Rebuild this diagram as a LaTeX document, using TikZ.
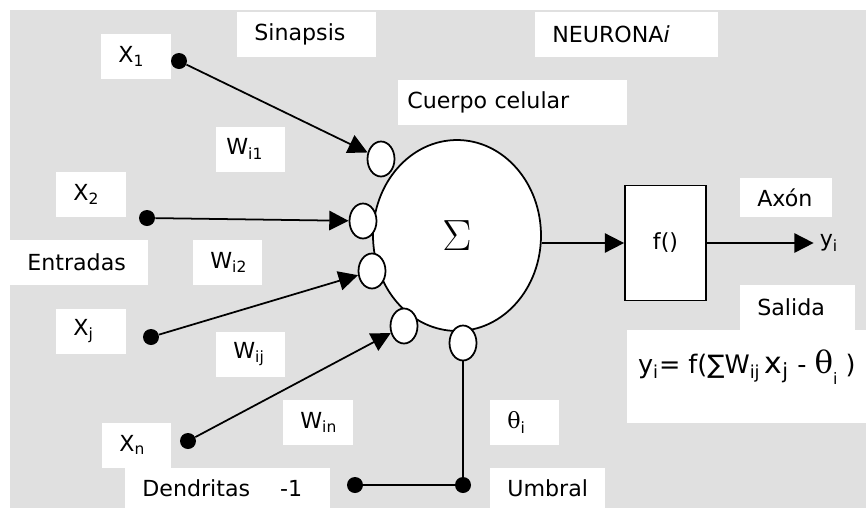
\documentclass[tikz,border=0pt]{standalone}
\usepackage[no-math]{fontspec}
\setmainfont{DejaVu Sans}
\newfontfamily\grk{DejaVu Serif}
\usetikzlibrary{arrows.meta,shapes.geometric}
\definecolor{Paper}{HTML}{E0E0E0}

\begin{document}
\begin{tikzpicture}[
  x=0.02cm,y=-0.02cm,
  font=\fontsize{12.6}{15}\selectfont,
  lbl/.style={fill=white,anchor=west,align=left,inner xsep=0.34cm,inner ysep=0pt,minimum height=0.9cm},
  syn/.style={ellipse,draw,fill=white,line width=1pt,minimum width=0.54cm,minimum height=0.7cm,inner sep=0pt},
  indot/.style={circle,fill=black,minimum size=0.32cm,inner sep=0pt},
  arrow/.style={-{Triangle[length=11pt,width=11pt]},line width=1pt},
  wire/.style={line width=1pt}
]
\useasboundingbox (0,0) rectangle (866,508);
\fill[Paper] (10,10) rectangle (866,508);

\node[lbl,text width=0.72cm] (lx1) at (101,56.5) {X\textsubscript{1}};
\node[lbl,text width=2.10cm] (lsyn) at (237,34.5) {Sinapsis};
\node[lbl,text width=2.98cm] (lneu) at (535,34.5) {NEURONA\textit{i}};
\node[lbl,inner xsep=0.18cm,text width=4.22cm] (lbody) at (398,102) {Cuerpo celular};
\node[lbl,inner xsep=0.2cm,text width=0.98cm] (lw1) at (216,149) {W\textsubscript{i1}};
\node[lbl,text width=0.72cm] (lx2) at (56,194.5) {X\textsubscript{2}};
\node[lbl,text width=2.08cm] (lin) at (10,262.5) {Entradas};
\node[lbl,text width=0.70cm] (lw2) at (193,262.5) {W\textsubscript{i2}};
\node[lbl,text width=0.72cm] (lxj) at (56,331) {X\textsubscript{j}};
\node[lbl,text width=0.70cm] (lwj) at (216,354) {W\textsubscript{ij}};
\node[lbl,text width=0.72cm] (lwn) at (283,422.5) {W\textsubscript{in}};
\node[lbl,text width=0.70cm] (lxn) at (102,445) {X\textsubscript{n}};
\node[lbl,text width=3.42cm,minimum height=0.8cm] (lden) at (125,488) {Dendritas\hspace{0.6cm}-1};
\node[lbl,text width=0.70cm] (lthe) at (490,422.5) {{\grk θ}\textsubscript{i}};
\node[lbl,text width=1.62cm,minimum height=0.8cm] (lumb) at (490,488) {Umbral};
\node[lbl,text width=1.16cm,minimum height=0.78cm] (laxon) at (740,197.5) {Axón};
\node[lbl,text width=1.62cm] (lsal) at (740,307.5) {Salida};
\node[fill=white,anchor=north west,inner sep=0pt,minimum width=4.78cm,text height=0.86cm,text depth=1.0cm,font=\fontsize{14.5}{16}\selectfont] (leq) at (627,330)
  {y\textsubscript{i}= f(∑W\textsubscript{ij}\,{\fontsize{17}{16}\selectfont x\textsubscript{j}} - {\grk\fontsize{17.5}{16}\selectfont θ}\raisebox{-0.8ex}{\small i} )};

\node[ellipse,draw,fill=white,line width=1pt,minimum width=3.36cm,minimum height=3.82cm,font=\Huge] (soma) at (457,235.5) {$\Sigma$};
\node[syn] (s1) at (381,159) {};
\node[syn] (s2) at (363,221) {};
\node[syn] (s3) at (372,271) {};
\node[syn] (s4) at (404,326) {};
\node[syn] (s5) at (463,343) {};

\node[indot] (d1) at (179,61) {};
\node[indot] (d2) at (147,218) {};
\node[indot] (dj) at (151,337) {};
\node[indot] (dn) at (188,441) {};
\node[indot] (dbias) at (355,485) {};
\node[indot] (dthr) at (463,485) {};

\node[draw,fill=white,line width=1pt,minimum width=1.62cm,minimum height=2.3cm] (fbox) at (665.5,243) {f()};
\node (yout) at (829,243) {y\textsubscript{i}};

\draw[arrow] (d1) -- (s1);
\draw[arrow] (d2) -- (s2);
\draw[arrow] (dj) -- (s3);
\draw[arrow] (dn) -- (s4);
\draw[wire] (s5) -- (dthr);
\draw[wire] (dbias) -- (dthr);
\draw[arrow] (fbox.west -| soma.east) -- (fbox.west);
\draw[arrow] (fbox.east) -- (yout.west);
\end{tikzpicture}
\end{document}
